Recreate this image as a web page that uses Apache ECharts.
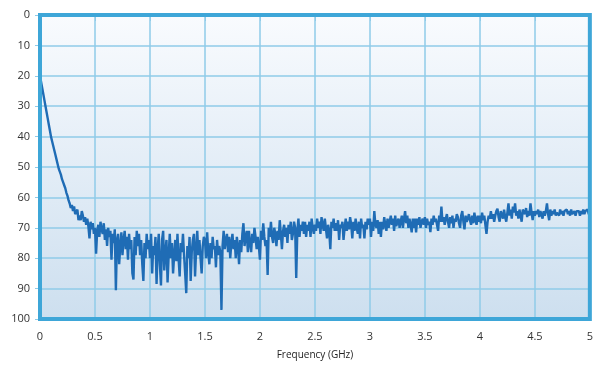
<!DOCTYPE html>
<html>
<head>
<meta charset="utf-8">
<script src="https://cdn.jsdelivr.net/npm/echarts@6/dist/echarts.min.js"></script>
<style>
html,body{margin:0;padding:0;background:#fff;}
#chart{width:596px;height:365px;}
</style>
</head>
<body>
<div id="chart"></div>
<script>
// Frequency sampling of the trace (GHz)
const freqStartGHz = 0;
const freqStepGHz = 0.01;
// Attenuation values, one per frequency step (0 .. 5 GHz)
const attenuation = [
  20,22,24,26,28,30,32,34,36,38,
  40,41.5,43,44.5,46,47.5,49,50.5,51.5,52.5,
  54,55,56,57,58.5,59.5,61,62,63.5,62.5,
  64.5,63,65.5,66,64,67.5,66,67.5,64.5,66,
  68,66.5,69,67,69.5,73.5,68,70.5,68.5,72,
  70,78.5,71,69,73,68,70.5,72,68.5,74,
  70.5,76,70,73,71,80.5,72,75,70.5,90.5,
  74,72,82,76,71.5,79,74,71,77,73,
  80.5,72,77,74,85,87,73,79,71,76,
  72,79,74,82,87.5,75,80,72,77,74,
  80,72,85,76,79,73,88.5,77,72,82,
  89,74,71,84,78,74,88,79,72,80,
  75,85,79,74,81,72,80,86,75,78,
  72,79,85,91.5,76,80,73,87.5,78,74,
  72,86,77,71,79,74,80,85,76,73,
  74,80,71.5,78,82,75,80,73,77,76,
  83,74,79,76,78,97,76,71,77,74,
  72,78,73,80,75,72,77,74,80,73,
  76,82,74,78,72,68.5,76,73,71,78,
  71,75,78,72,75,70,73,77,73,76,
  80.5,71,74,68.5,73,76,74,85.5,70,73,
  68,73,75,70,72,76,71,74,67.5,72,
  77,71,69,73,70,75,69,72,68,74,
  72,68,70,86.5,71,67,73,69,71,68,
  72,68,73,69,71,68,73,67,70,72,
  69,71,67,70,68,72,66.5,69,71,67,
  67.5,73.5,69,71,77,68,70,67,71,68.5,
  71,67.5,74,69,70,68,74,70,67,71,
  68,70.5,66.5,69,73.5,68,71,67,70,72,
  68,73.5,67,70,69,73.5,68,70.5,67,69,
  67,73,68,71,64.5,69,70,67.5,72,68,
  73,68,70.5,66.5,69,71,67,70,68,66,
  69,67,71,66,69.5,68,67,70,68,66,
  70,67,64.5,68.5,66,70,67,69,71.5,67,
  70,67,71.5,67,69,66.5,70,68,67,69,
  66.5,70,67,69,68,71.4,67,69,66,68,
  67,69,71,66,68,63,68,66.5,69,67,
  65.5,68,70,66.5,68.5,66,70,67,68,65.5,
  66.5,68.5,70,66,64.5,68,70.5,66,68,67,
  65.5,67.5,69,66,68.5,65,67.5,69,66,68,
  66,68.5,65,67.5,66,69,72,68,66,67,
  64.5,67,65.5,68,66,64.5,63.7,66.5,68,64.5,
  65,67,64,66.5,68,65,62,66,64,67,
  63,65,62,66,64.5,67,64,66,68,64,
  64.5,65.5,63.5,66.5,64.5,66,62,65,67.5,64.5,
  66,64.5,65.5,64,66.5,64.5,65.5,67,64.5,66,
  64.5,62,65.5,67.5,64,66,64.5,65.5,64,66,
  65,64.5,66,64,65.5,64.5,66,64.5,65,64,
  65.5,64.5,66,64,65.5,65,64.5,66,64.5,65,
  64.5,66,64.5,65.5,64,65.5,64.5,65,64,65.5,
  64.5
];
const xTicks = [0, 0.5, 1, 1.5, 2, 2.5, 3, 3.5, 4, 4.5, 5];
const yTicks = [0, 10, 20, 30, 40, 50, 60, 70, 80, 90, 100];
const xName = 'Frequency (GHz)';

const seriesData = attenuation.map((v, i) => [+(freqStartGHz + i * freqStepGHz).toFixed(3), v]);

const chart = echarts.init(document.getElementById('chart'), null, {renderer: 'canvas'});
const gridColor = '#8fcbe8';
const borderColor = '#3ea6d8';
const labelStyle = {color: '#333', fontSize: 11, fontFamily: 'Open Sans'};

chart.setOption({
  animation: false,
  grid: {
    left: 40, right: 4, top: 15, bottom: 43,
    show: true,
    borderWidth: 0,
    backgroundColor: {
      type: 'linear', x: 0, y: 0, x2: 0, y2: 1,
      colorStops: [{offset: 0, color: '#f9fbfe'}, {offset: 1, color: '#cddfef'}]
    }
  },
  xAxis: {
    type: 'value',
    min: xTicks[0], max: xTicks[xTicks.length - 1], interval: 0.5,
    name: xName, nameLocation: 'middle', nameGap: 31,
    nameTextStyle: {color: '#222', fontSize: 10, fontFamily: 'Open Sans'},
    axisLine: {show: false},
    axisTick: {show: true, length: 6, lineStyle: {color: gridColor, width: 1}},
    axisLabel: Object.assign({margin: 12}, labelStyle, {formatter: v => xTicks.includes(v) ? String(v) : ''}),
    splitLine: {show: true, lineStyle: {color: gridColor, width: 1.5}}
  },
  yAxis: {
    type: 'value',
    inverse: true,
    min: yTicks[0], max: yTicks[yTicks.length - 1], interval: 10,
    axisLine: {show: false},
    axisTick: {show: true, length: 5, lineStyle: {color: gridColor, width: 1}},
    axisLabel: Object.assign({margin: 10}, labelStyle, {formatter: v => yTicks.includes(v) ? String(v) : ''}),
    splitLine: {show: true, lineStyle: {color: gridColor, width: 1.5}}
  },
  series: [{
    type: 'line',
    data: seriesData,
    showSymbol: false,
    symbol: 'none',
    lineStyle: {color: '#1f6cb5', width: 2.4},
    z: 3
  }]
});

// thick frame around the plot area, placed from the axis scales
const p0 = chart.convertToPixel({gridIndex: 0}, [xTicks[0], yTicks[0]]);
const p1 = chart.convertToPixel({gridIndex: 0}, [xTicks[xTicks.length - 1], yTicks[yTicks.length - 1]]);
chart.setOption({
  graphic: [{
    type: 'rect',
    z: 10,
    shape: {x: p0[0], y: p0[1], width: p1[0] - p0[0], height: p1[1] - p0[1]},
    style: {fill: 'none', stroke: borderColor, lineWidth: 4}
  }]
});
</script>
</body>
</html>
